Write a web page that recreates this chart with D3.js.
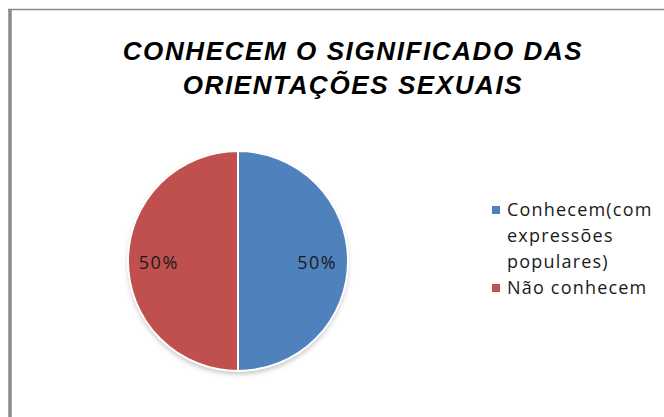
<!DOCTYPE html>
<html>
<head>
<meta charset="utf-8">
<script src="https://cdn.jsdelivr.net/npm/d3@7"></script>
<style>
  body { margin: 0; background: #fff; }
</style>
</head>
<body>
<div id="chart"></div>
<script>
// chart data
const categories = ["Conhecem(com expressões populares)", "Não conhecem"];
const values = [50, 50];
const colors = ["#4F81BD", "#C0504D"];
const legendLines = [["Conhecem(com", "expressões", "populares)"], ["Não conhecem"]];
const titleLines = ["CONHECEM O SIGNIFICADO DAS", "ORIENTAÇÕES SEXUAIS"];

const width = 664, height = 417;

const svg = d3.select("#chart")
    .append("svg")
    .attr("width", width)
    .attr("height", height);

// frame (only top and left edges visible)
svg.append("line")
    .attr("x1", 8).attr("x2", width)
    .attr("y1", 9.5).attr("y2", 9.5)
    .attr("stroke", "#8a8a8a").attr("stroke-width", 1.5);
svg.append("line")
    .attr("x1", 10).attr("x2", 10)
    .attr("y1", 9).attr("y2", height)
    .attr("stroke", "#8a8a8a").attr("stroke-width", 3.5);

// title
svg.append("g")
    .selectAll("text")
    .data(titleLines)
    .enter()
    .append("text")
    .attr("x", 353)
    .attr("y", (d, i) => 60 + i * 34)
    .attr("text-anchor", "middle")
    .style("font-family", "'Liberation Sans', Arial, sans-serif")
    .style("font-style", "italic")
    .style("font-weight", "bold")
    .style("font-size", "26px")
    .style("letter-spacing", "1.6px")
    .style("fill", "#000")
    .text(d => d);

// pie
const cx = 238, cy = 261, r = 110;

const defs = svg.append("defs");
const blur = defs.append("filter").attr("id", "shadow")
    .attr("x", "-20%").attr("y", "-20%").attr("width", "140%").attr("height", "140%");
blur.append("feGaussianBlur").attr("stdDeviation", 2.5);

svg.append("circle")
    .attr("cx", cx).attr("cy", cy + 3)
    .attr("r", r)
    .attr("fill", "#999")
    .attr("opacity", 0.6)
    .attr("filter", "url(#shadow)");

const pie = d3.pie().sort(null).value(d => d);
const arc = d3.arc().innerRadius(0).outerRadius(r);
const arcs = pie(values);

const g = svg.append("g").attr("transform", `translate(${cx},${cy})`);

g.selectAll("path")
    .data(arcs)
    .enter()
    .append("path")
    .attr("d", arc)
    .attr("fill", (d, i) => colors[i])
    .attr("stroke", "#fff")
    .attr("stroke-width", 2);

// data labels
const labelArc = d3.arc().innerRadius(r * 0.72).outerRadius(r * 0.72);
g.selectAll(".lbl")
    .data(arcs)
    .enter()
    .append("text")
    .attr("class", "lbl")
    .attr("x", d => labelArc.centroid(d)[0])
    .attr("y", d => labelArc.centroid(d)[1] + 8)
    .attr("text-anchor", "middle")
    .style("font-family", "'Open Sans', 'Noto Sans', sans-serif")
    .style("font-size", "18px")
    .style("letter-spacing", "1.5px")
    .style("fill", "#1a1a1a")
    .text(d => d.data + "%");

// legend
const legend = svg.append("g").attr("transform", "translate(492,0)");
const lineH = 26;
let row = 0;
legendLines.forEach((lines, i) => {
    const y0 = 210 + row * lineH;
    legend.append("rect")
        .attr("x", 0).attr("y", y0 - 4)
        .attr("width", 8).attr("height", 8)
        .attr("fill", colors[i]);
    lines.forEach((t, j) => {
        legend.append("text")
            .attr("x", 15)
            .attr("y", y0 + j * lineH + 6)
            .style("font-family", "'Open Sans', 'Noto Sans', sans-serif")
            .style("font-size", "18px")
            .style("letter-spacing", "1.2px")
            .style("fill", "#1a1a1a")
            .text(t);
    });
    row += lines.length;
});
</script>
</body>
</html>
